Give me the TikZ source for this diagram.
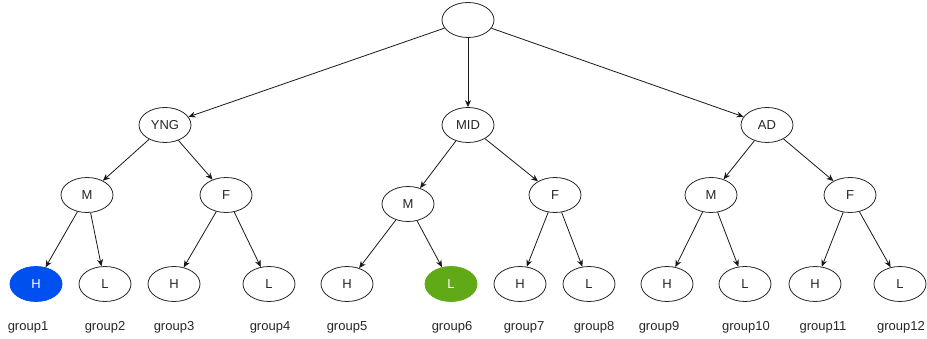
\documentclass[tikz,border=0pt]{standalone}
\usepackage{fontspec}
\setmainfont{Liberation Sans}
\usetikzlibrary{arrows.meta}
\usetikzlibrary{shapes.geometric,positioning}
\definecolor{hblue}{HTML}{0050EF}
\definecolor{lgreen}{HTML}{60A917}

\begin{document}
\begin{tikzpicture}[
        x=1pt, y=-1pt,
        catnode/.style={ellipse, draw=black!85, line width=0.8pt, text=black!85, minimum width=52pt, minimum height=35pt, inner sep=0pt, font=\fontsize{13}{15}\selectfont},
        groupname/.style={inner sep=0pt, text=black!85, font=\fontsize{13}{15}\selectfont},
        link/.style={-{Stealth[length=7pt,width=6pt]}, line width=0.8pt, draw=black!90}
      ]
        \useasboundingbox (0,0) rectangle (927,339);

        \node (root) [catnode] at (468,20) {};

        \node (yng) [catnode] at (165,125) {YNG};
        \node (mid) [catnode] at (468,125) {MID};
        \node (ad) [catnode] at (767,125) {AD};

        \node (ym) [catnode] at (87,195) {M};
        \node (yf) [catnode] at (226,195) {F};
        \node (mm) [catnode] at (408,204) {M};
        \node (mf) [catnode] at (555,195) {F};
        \node (am) [catnode] at (711,195) {M};
        \node (af) [catnode] at (850,195) {F};

        \node (h1) [catnode, fill=hblue, draw=hblue, text=white] at (36,284) {H};
        \node (l2) [catnode] at (105,284) {L};
        \node (h3) [catnode] at (174,284) {H};
        \node (l4) [catnode] at (269,284) {L};
        \node (h5) [catnode] at (347,284) {H};
        \node (l6) [catnode, fill=lgreen, draw=lgreen, text=white] at (451,284) {L};
        \node (h7) [catnode] at (520,284) {H};
        \node (l8) [catnode] at (589,284) {L};
        \node (h9) [catnode] at (667,284) {H};
        \node (l10) [catnode] at (745,284) {L};
        \node (h11) [catnode] at (815,284) {H};
        \node (l12) [catnode] at (900,284) {L};

        \draw[link] (root) -- (yng);
        \draw[link] (root) -- (mid);
        \draw[link] (root) -- (ad);

        \draw[link] (yng) -- (ym);
        \draw[link] (yng) -- (yf);
        \draw[link] (mid) -- (mm);
        \draw[link] (mid) -- (mf);
        \draw[link] (ad) -- (am);
        \draw[link] (ad) -- (af);

        \draw[link] (ym) -- (h1);
        \draw[link] (ym) -- (l2);
        \draw[link] (yf) -- (h3);
        \draw[link] (yf) -- (l4);
        \draw[link] (mm) -- (h5);
        \draw[link] (mm) -- (l6);
        \draw[link] (mf) -- (h7);
        \draw[link] (mf) -- (l8);
        \draw[link] (am) -- (h9);
        \draw[link] (am) -- (l10);
        \draw[link] (af) -- (h11);
        \draw[link] (af) -- (l12);

        \node (g1) [groupname] at (28,327) {group1};
        \node (g2) [groupname] at (105,327) {group2};
        \node (g3) [groupname] at (174,327) {group3};
        \node (g4) [groupname] at (270,327) {group4};
        \node (g5) [groupname] at (347,327) {group5};
        \node (g6) [groupname] at (452,327) {group6};
        \node (g7) [groupname] at (524,327) {group7};
        \node (g8) [groupname] at (594,327) {group8};
        \node (g9) [groupname] at (659,327) {group9};
        \node (g10) [groupname] at (746,327) {group10};
        \node (g11) [groupname] at (823,327) {group11};
        \node (g12) [groupname] at (901,327) {group12};
      \end{tikzpicture}
\end{document}
